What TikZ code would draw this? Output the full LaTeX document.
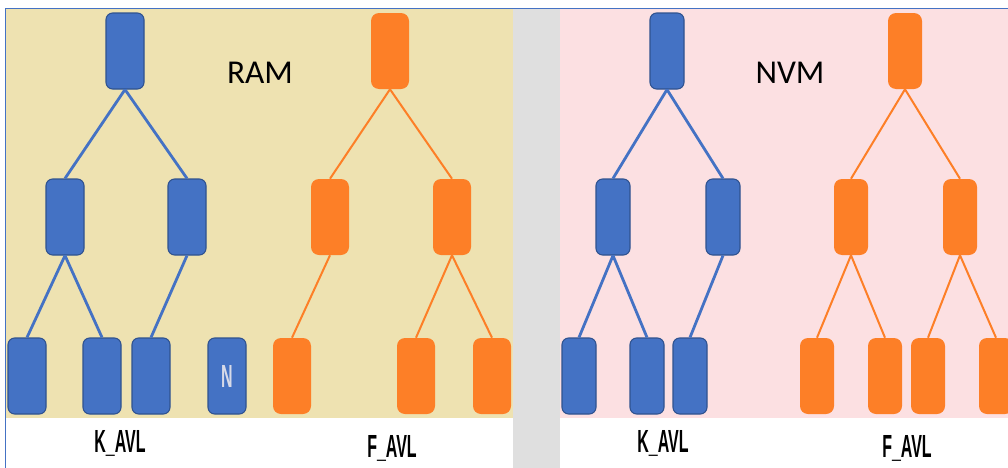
\documentclass[tikz,border=0pt]{standalone}
\usepackage{fontspec}
\setmainfont{Carlito}
\newfontfamily\narrowsans[FakeStretch=0.5]{Liberation Sans}
\usepackage{xcolor}
\usetikzlibrary{positioning}
\definecolor{kblue}{RGB}{68,114,196}
\definecolor{kedge}{RGB}{47,82,143}
\definecolor{forange}{RGB}{253,127,39}
\definecolor{rambg}{RGB}{238,226,177}
\definecolor{nvmbg}{RGB}{252,224,226}
\definecolor{gapgray}{RGB}{223,223,223}
\definecolor{nlight}{RGB}{215,218,232}
\tikzset{
  knode/.style={rectangle, rounded corners=5pt, draw=kedge, line width=0.8pt,
                fill=kblue, minimum width=28.5pt, minimum height=57pt, inner sep=0pt},
  fnode/.style={rectangle, rounded corners=6pt, fill=forange,
                minimum width=28.5pt, minimum height=57pt, inner sep=0pt},
  kline/.style={draw=kblue, line width=2.1pt},
  fline/.style={draw=forange, line width=1.5pt},
  memlbl/.style={font=\fontsize{25}{25}\selectfont, text=black},
  treelbl/.style={font=\narrowsans\bfseries\fontsize{24}{24}\selectfont, text=black},
}

\begin{document}
\begin{tikzpicture}[x=0.75pt, y=-0.75pt]
  \useasboundingbox (0,0) rectangle (1008,468);
  % panels
  \fill[white] (0,0) rectangle (1008,468);
  \fill[gapgray] (513,9) rectangle (560,468);
  \fill[rambg] (6,9) rectangle (513,418);
  \fill[nvmbg] (560,9) rectangle (1008,418);
  \draw[kblue, line width=0.6pt] (5,468) -- (5,8) -- (1008,8);

  \node[memlbl] (ram) at (260,73) {RAM};
  \node[memlbl] (nvm) at (790,73) {NVM};

  % RAM: K_AVL
  \node[knode] (rk) at (125,51) {};
  \node[knode] (rk1) at (65,217) {};
  \node[knode] (rk2) at (187,217) {};
  \node[knode] (rk11) at (27,376) {};
  \node[knode] (rk12) at (102,376) {};
  \node[knode] (rk21) at (151,376) {};
  \node[knode, text=nlight, font=\narrowsans\bfseries\fontsize{24}{24}\selectfont] (rkn) at (227,376) {N};
  \draw[kline] (rk.south) -- (rk1.north);
  \draw[kline] (rk.south) -- (rk2.north);
  \draw[kline] (rk1.south) -- (rk11.north);
  \draw[kline] (rk1.south) -- (rk12.north);
  \draw[kline] (rk2.south) -- (rk21.north);

  % RAM: F_AVL
  \node[fnode] (rf) at (390,51) {};
  \node[fnode] (rf1) at (330,217) {};
  \node[fnode] (rf2) at (452,217) {};
  \node[fnode] (rf11) at (292,376) {};
  \node[fnode] (rf21) at (416,376) {};
  \node[fnode] (rf22) at (492,376) {};
  \draw[fline] (rf.south) -- (rf1.north);
  \draw[fline] (rf.south) -- (rf2.north);
  \draw[fline] (rf1.south) -- (rf11.north);
  \draw[fline] (rf2.south) -- (rf21.north);
  \draw[fline] (rf2.south) -- (rf22.north);

  % NVM: K_AVL
  \begin{scope}[knode/.append style={minimum width=25.5pt}, fnode/.append style={minimum width=25.5pt}]
  \node[knode] (nk) at (667,51) {};
  \node[knode] (nk1) at (613,217) {};
  \node[knode] (nk2) at (723,217) {};
  \node[knode] (nk11) at (579,376) {};
  \node[knode] (nk12) at (647,376) {};
  \node[knode] (nk21) at (690,376) {};
  \draw[kline] (nk.south) -- (nk1.north);
  \draw[kline] (nk.south) -- (nk2.north);
  \draw[kline] (nk1.south) -- (nk11.north);
  \draw[kline] (nk1.south) -- (nk12.north);
  \draw[kline] (nk2.south) -- (nk21.north);

  % NVM: F_AVL
  \node[fnode] (nf) at (905,51) {};
  \node[fnode] (nf1) at (851,217) {};
  \node[fnode] (nf2) at (960,217) {};
  \node[fnode] (nf11) at (817,376) {};
  \node[fnode] (nf12) at (885,376) {};
  \node[fnode] (nf21) at (928,376) {};
  \node[fnode] (nf22) at (996,376) {};
  \draw[fline] (nf.south) -- (nf1.north);
  \draw[fline] (nf.south) -- (nf2.north);
  \draw[fline] (nf1.south) -- (nf11.north);
  \draw[fline] (nf1.south) -- (nf12.north);
  \draw[fline] (nf2.south) -- (nf21.north);
  \draw[fline] (nf2.south) -- (nf22.north);
  \end{scope}

  % tree names
  \node[treelbl] (rklbl) at (120,443) {K\_AVL};
  \node[treelbl] (rflbl) at (392,448) {F\_AVL};
  \node[treelbl] (nklbl) at (663,443) {K\_AVL};
  \node[treelbl] (nflbl) at (907,448) {F\_AVL};
\end{tikzpicture}
\end{document}
